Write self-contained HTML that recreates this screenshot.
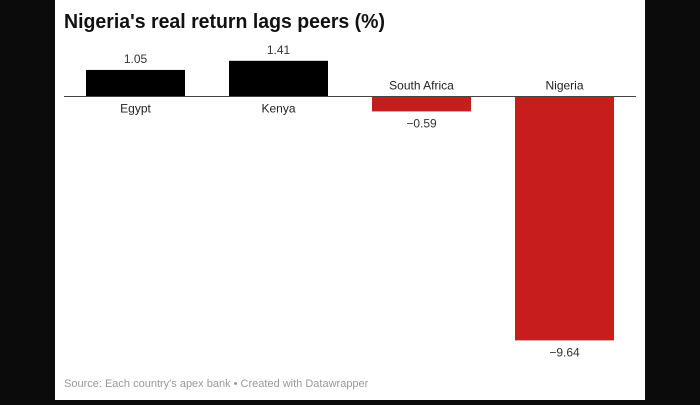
<!DOCTYPE html>
<html><head><meta charset="utf-8"><style>
body{margin:0;width:700px;height:400px;background:#0b0b0b;overflow:hidden;font-family:"Liberation Sans",sans-serif}
#card{position:absolute;left:55px;top:0;width:590px;height:400px;background:#fff}
</style></head><body>
<div id="card">
<svg width="590" height="400">
<text x="9" y="28" font-size="20" font-weight="bold" fill="#111" textLength="321" lengthAdjust="spacingAndGlyphs">Nigeria's real return lags peers (%)</text>
<g id="bars"></g>
<line x1="9" x2="581" y1="96.5" y2="96.5" stroke="#444" stroke-width="1"/>
<text x="9" y="387" font-size="11" fill="#999">Source: Each country's apex bank • Created with Datawrapper</text>
</svg></div>
<script>
const categories=["Egypt","Kenya","South Africa","Nigeria"];
const values=[1.05,1.41,-0.59,-9.64];
const valueLabels=["1.05","1.41","−0.59","−9.64"];
const y0=96.5, scale=25.3, x0=31, step=143, bw=99;
const yPos=v=>y0-v*scale;
const xPos=i=>x0+i*step;
const g=document.getElementById('bars');
const ns='http://www.w3.org/2000/svg';
categories.forEach((c,i)=>{
  const v=values[i],x=xPos(i),y=yPos(v);
  const r=document.createElementNS(ns,'rect');
  r.setAttribute('x',x);r.setAttribute('width',bw);
  r.setAttribute('y',Math.min(y,y0));r.setAttribute('height',Math.abs(y-y0));
  r.setAttribute('fill',v>=0?'#000':'#c71e1d');
  
  
  g.appendChild(r);
  const vl=document.createElementNS(ns,'text');
  vl.setAttribute('x',x+bw/2);vl.setAttribute('text-anchor','middle');
  vl.setAttribute('font-size','12');vl.setAttribute('fill','#333');
  vl.setAttribute('y',v>=0?y-7:y+16);
  vl.textContent=valueLabels[i];
  
  
  g.appendChild(vl);
  const cl=document.createElementNS(ns,'text');
  cl.setAttribute('x',x+bw/2);cl.setAttribute('text-anchor','middle');
  cl.setAttribute('font-size','12');cl.setAttribute('fill','#222');
  cl.setAttribute('y',v>=0?y0+16:y0-7);
  cl.textContent=c;
  
  
  g.appendChild(cl);
});
</script>
</body></html>
